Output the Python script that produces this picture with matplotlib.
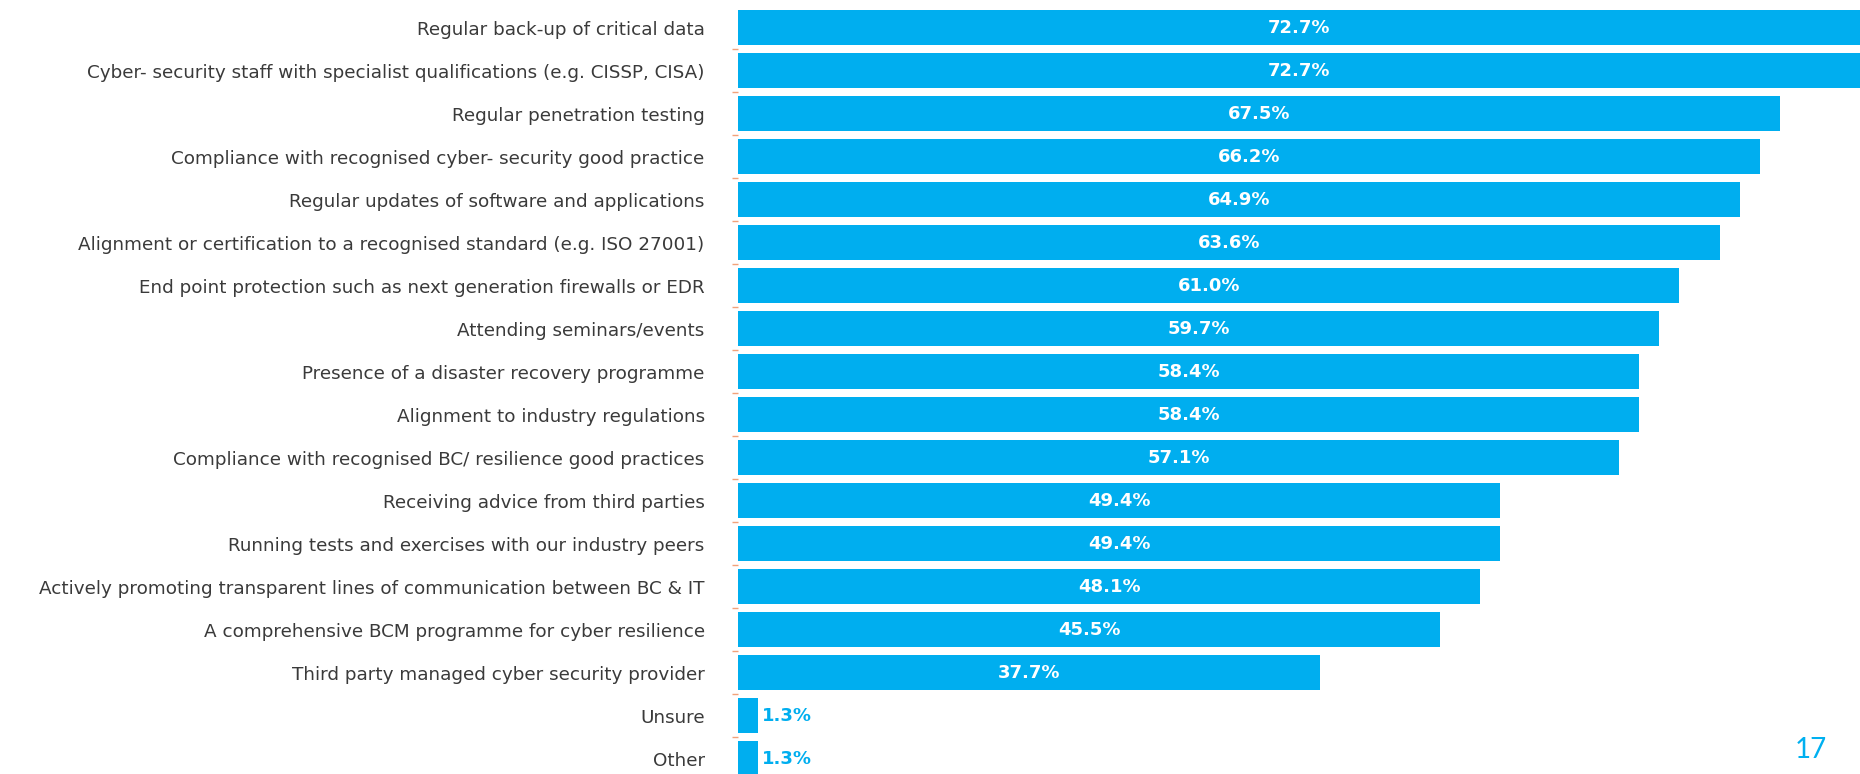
import matplotlib.pyplot as plt
import matplotlib.transforms as mtransforms
import numpy as np

categories = [
    "Regular back-up of critical data",
    "Cyber- security staff with specialist qualifications (e.g. CISSP, CISA)",
    "Regular penetration testing",
    "Compliance with recognised cyber- security good practice",
    "Regular updates of software and applications",
    "Alignment or certification to a recognised standard (e.g. ISO 27001)",
    "End point protection such as next generation firewalls or EDR",
    "Attending seminars/events",
    "Presence of a disaster recovery programme",
    "Alignment to industry regulations",
    "Compliance with recognised BC/ resilience good practices",
    "Receiving advice from third parties",
    "Running tests and exercises with our industry peers",
    "Actively promoting transparent lines of communication between BC & IT",
    "A comprehensive BCM programme for cyber resilience",
    "Third party managed cyber security provider",
    "Unsure",
    "Other",
]
values = [72.7, 72.7, 67.5, 66.2, 64.9, 63.6, 61.0, 59.7, 58.4, 58.4,
          57.1, 49.4, 49.4, 48.1, 45.5, 37.7, 1.3, 1.3]
page_number = "17"

BAR_BLUE = "#00aeef"
TEXT_GREY = "#3a3a3a"

fig = plt.figure(figsize=(18.6, 7.74), dpi=100)
ax = fig.add_axes([738 / 1860, 0.0, 1 - 738 / 1860, 1.0])

y = np.arange(len(categories))
ax.barh(y, values, height=0.81, color=BAR_BLUE, edgecolor="none")

ax.set_xlim(0, max(values))
ax.set_ylim(17.36, -0.64)

# value labels: centred inside long bars, just outside the tiny ones
for yi, v in zip(y, values):
    if v > 10:
        ax.text(v / 2, yi, f"{v:.1f}%", ha="center", va="center",
                color="white", fontsize=13, fontweight="bold",
                family="DejaVu Sans")
    else:
        ax.text(v + 0.25, yi, f"{v:.1f}%", ha="left", va="center",
                color=BAR_BLUE, fontsize=13, fontweight="bold",
                family="DejaVu Sans")

ax.set_yticks(y)
ax.set_yticklabels(categories, fontsize=13.2, color=TEXT_GREY,
                   family="DejaVu Sans")
# nudge category labels up a touch so they sit level with the bar centres
nudge = mtransforms.ScaledTranslation(0, 3 / 100, fig.dpi_scale_trans)
for lbl in ax.get_yticklabels():
    lbl.set_transform(lbl.get_transform() + nudge)
ax.tick_params(axis="y", which="major", length=0, pad=24)
ax.set_yticks(y[:-1] + 0.5, minor=True)
ax.tick_params(axis="y", which="minor", length=4, width=1, color="#f2a27a")
ax.set_xticks([])
for side in ax.spines.values():
    side.set_visible(False)

fig.text(1811 / 1860, 1 - 750 / 774, page_number, ha="center", va="center",
         color="#00b0f0", fontsize=20, family="Lato")

fig.savefig("out.png", dpi=100)
